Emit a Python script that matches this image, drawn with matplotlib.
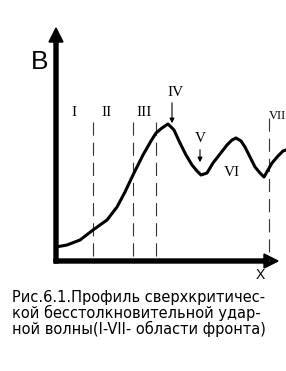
import matplotlib
matplotlib.use("Agg")
import matplotlib.pyplot as plt

plt.rcParams['lines.scale_dashes'] = False

# Profile of B along x (units: px from the axes corner)
curve_x = [0, 11, 24, 37, 51, 61, 69, 77, 87, 95, 100, 106, 112, 118, 124, 130, 136, 141,
           145, 151, 157, 164, 171, 176, 180, 185, 189, 194, 199, 204, 208, 212, 216, 222, 227, 230]
curve_b = [14, 16, 21, 31, 41, 54, 69, 86, 106, 120, 128, 133, 137, 131, 118, 106, 96, 90,
           86, 88, 98, 107, 116, 121, 123, 120, 114, 104, 94, 88, 84, 91, 98, 105, 110, 111]

# Region boundaries
bound_x = [37, 77, 100, 213]
bound_top = [139, 139, 139, 143]

# Region labels
region_names = ['I', 'II', 'III', 'IV', 'V', 'VI', 'VII']
region_x = [18, 51, 88, 119, 144, 176, 221]
region_b = [148, 148, 148, 169, 123, 89, 145]

# Pointer arrows (IV, V)
arrow_x = [116, 144]
arrow_from = [161, 114]
arrow_to = [135, 96]

caption = ['Рис.6.1.Профиль сверхкритичес-',
           'кой бесстолкновительной удар-',
           'ной волны(I-VII- области фронта)']

fig = plt.figure(figsize=(2.86, 3.71), dpi=100)
ax = fig.add_axes([0, 0, 1, 1])
ax.set_xlim(-56, 230)
ax.set_ylim(-110, 261)
ax.axis('off')

# axes with arrows
ax.arrow(0, -2, 0, 235, width=4, head_width=14, head_length=14,
         length_includes_head=True, color='black')
ax.arrow(-2, 0, 224, 0, width=4, head_width=14, head_length=14,
         length_includes_head=True, color='black')
ax.text(-16, 199, 'B', fontsize=19, family='Liberation Sans', ha='center', va='center')
ax.text(204, -14, 'X', fontsize=10, family='Liberation Sans', ha='center', va='center')

for x, top in zip(bound_x, bound_top):
    ax.plot([x, x], [top, 0], color='#333333', lw=0.8, linestyle=(0, (9.5, 5)))

ax.plot(curve_x, curve_b, color='black', lw=2.2, solid_joinstyle='round')

for name, x, b in zip(region_names, region_x, region_b):
    fs = 9 if name == 'VII' else 11
    ax.text(x, b, name, fontsize=fs, family='Liberation Serif', ha='center', va='center')

for x, y0, y1 in zip(arrow_x, arrow_from, arrow_to):
    ax.annotate('', xy=(x, y1), xytext=(x, y0),
                arrowprops=dict(arrowstyle='-|>', lw=0.8, color='black', mutation_scale=7))

for i, line in enumerate(caption):
    ax.text(-44, -41 - 16 * i, line, fontsize=10.5, family='DejaVu Sans',
            ha='left', va='baseline')

fig.savefig('out.png', dpi=100)
